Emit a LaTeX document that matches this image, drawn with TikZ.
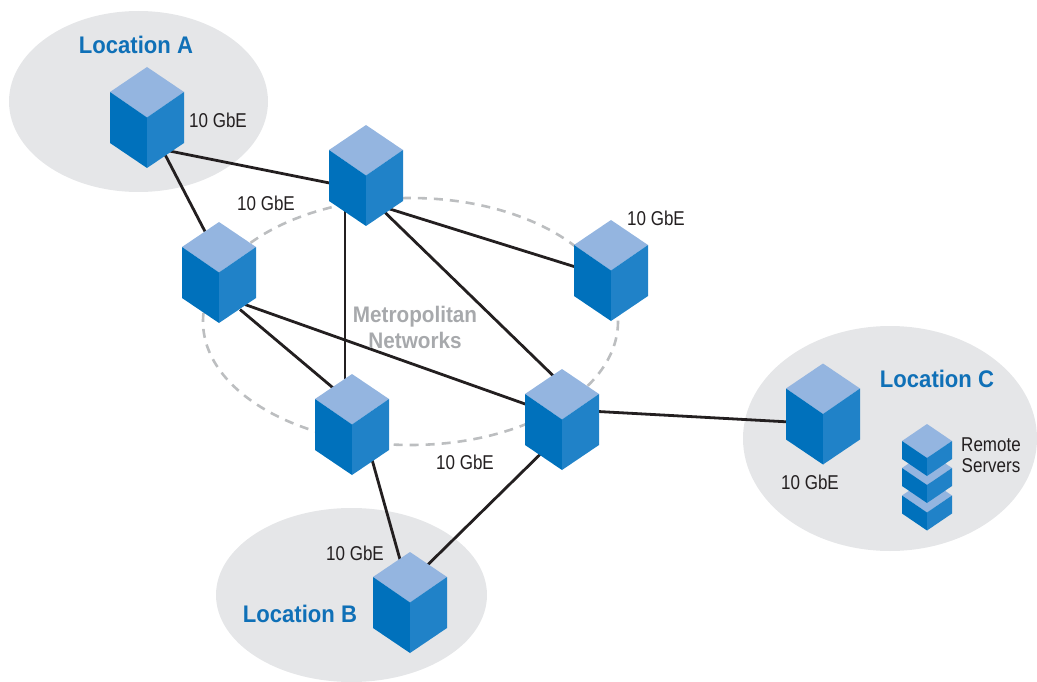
\documentclass[tikz,border=0pt]{standalone}
\usepackage{fontspec}
\setmainfont[FakeStretch=0.85]{Liberation Sans}
\newfontfamily\headfont[FakeStretch=0.92]{Liberation Sans Bold}
\usetikzlibrary{calc,positioning}
\definecolor{cubetop}{HTML}{94B5E0}
\definecolor{cubeleft}{HTML}{0071BC}
\definecolor{cuberight}{HTML}{2082C8}
\definecolor{sitegrey}{HTML}{E5E6E8}
\definecolor{metrogrey}{HTML}{BCBEC0}
\definecolor{metrotext}{HTML}{A7A9AC}
\definecolor{locblue}{HTML}{0F70B7}
\definecolor{linkblack}{HTML}{231F20}

\begin{document}
\begin{tikzpicture}[x=1pt, y=-1pt]
\tikzset{switchnode/.style={rectangle,minimum width=74pt,minimum height=101pt,inner sep=0},
servernode/.style={rectangle,minimum width=50pt,minimum height=52pt,inner sep=0},
speedlabel/.style={font=\fontsize{20}{22}\selectfont,text=linkblack},
locationlabel/.style={font=\fontsize{24}{26}\selectfont\headfont,text=locblue},
metrolabel/.style={font=\fontsize{22.5}{26}\selectfont\headfont,text=metrotext,align=center},
serverlabel/.style={font=\fontsize{20}{21}\selectfont,text=linkblack,align=center},
link/.style={draw=linkblack,line width=2.8pt},
switchcube/.pic={
  \fill[cubetop] (0,-50.5) -- (37,-25.5) -- (0,0) -- (-37,-25.5) -- cycle;
  \fill[cubeleft] (-37,-25.5) -- (0,0) -- (0,50.5) -- (-37,25.5) -- cycle;
  \fill[cuberight] (37,-25.5) -- (0,0) -- (0,50.5) -- (37,25.5) -- cycle;},
servercube/.pic={
  \fill[cubetop] (0,-26) -- (25,-9) -- (0,8) -- (-25,-9) -- cycle;
  \fill[cubeleft] (-25,-9) -- (0,8) -- (0,26) -- (-25,9) -- cycle;
  \fill[cuberight] (25,-9) -- (0,8) -- (0,26) -- (25,9) -- cycle;}}

\useasboundingbox (0,0) rectangle (1037,682);

%% Sites
\fill[sitegrey] (138.5,101.5) ellipse [x radius=129.5, y radius=90.5];
\fill[sitegrey] (351.5,595) ellipse [x radius=135.5, y radius=87];
\fill[sitegrey] (890,438.5) ellipse [x radius=147, y radius=112.5];
\draw[metrogrey,line width=2.6pt,dash pattern=on 9pt off 7pt] (410.5,321.5) ellipse [x radius=207.5, y radius=123.5];

\node (sA) [switchnode] at (147,117.5) {};
\node (sT) [switchnode] at (366,175.5) {};
\node (sL) [switchnode] at (219,272.5) {};
\node (sR) [switchnode] at (611,270.5) {};
\node (sM) [switchnode] at (352,424.5) {};
\node (sE) [switchnode] at (562,419.5) {};
\node (sB) [switchnode] at (410,602.5) {};
\node (sC) [switchnode] at (823,414) {};
\node (srv1) [servernode] at (927,450) {};
\node (srv2) [servernode] at (927,477) {};
\node (srv3) [servernode] at (927,504.5) {};

%% Edges
\draw[link] ($(sA)+(20,33)$) -- ($(sT)+(-34,8)$);
\draw[link] ($(sA)+(18,37)$) -- ($(sL)+(-14,-41)$);
\draw[link] ($(sT)+(19,32)$) -- ($(sR)+(-21,1)$);
\draw[link] ($(sT)+(19,37)$) -- ($(sE)+(-7,-42)$);
\draw[link] ($(sT)+(-21,34)$) -- ($(sM)+(-7,-45)$);
\draw[link] ($(sL)+(21,37)$) -- ($(sM)+(-17,-35)$);
\draw[link] ($(sL)+(26,32)$) -- ($(sE)+(-27,-12)$);
\draw[link] ($(sE)+(36,-8)$) -- ($(sC)+(-33,8)$);
\draw[link] ($(sM)+(20,35)$) -- ($(sB)+(-10,-43)$);
\draw[link] ($(sE)+(-22,35)$) -- ($(sB)+(15,-35)$);

\foreach \u in {sA, sT, sL, sR, sM, sE, sB, sC} \pic at (\u) {switchcube};
\foreach \u in {srv3, srv2, srv1} \pic at (\u) {servercube};

\node (locA) [locationlabel] at (136,45) {Location A};
\node (locB) [locationlabel] at (300,614) {Location B};
\node (locC) [locationlabel] at (937,379) {Location C};
\node (metro) [metrolabel] at (415,327) {Metropolitan\\Networks};
\node (srvlab) [serverlabel] at (991,455.5) {Remote\\Servers};

\foreach \lab/\x/\y in {a/218/120, t/266/203, r/656/218, e/465/462, b/355/553, c/810/482}
  \node (gbe\lab) [speedlabel] at (\x,\y) {10 GbE};

\end{tikzpicture}
\end{document}
